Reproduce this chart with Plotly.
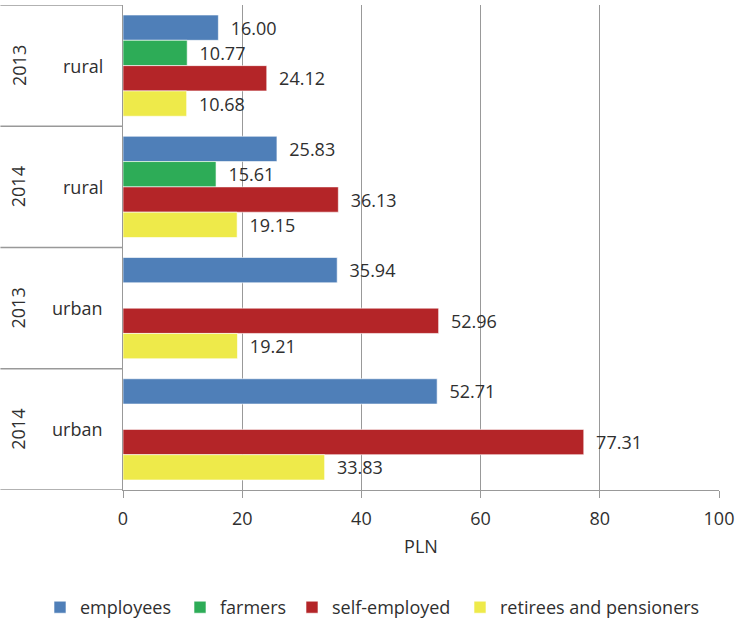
import plotly.graph_objects as go

categories = ["2013 rural", "2014 rural", "2013 urban", "2014 urban"]
years = ["2013", "2014", "2013", "2014"]
areas = ["rural", "rural", "urban", "urban"]

employees = [16.00, 25.83, 35.94, 52.71]
farmers = [10.77, 15.61, None, None]
self_employed = [24.12, 36.13, 52.96, 77.31]
retirees = [10.68, 19.15, 19.21, 33.83]

series = [
    ("employees", employees, "#4F7FB8"),
    ("farmers", farmers, "#2DAC57"),
    ("self-employed", self_employed, "#B42528"),
    ("retirees and pensioners", retirees, "#EEEA4A"),
]

FONT = "Open Sans"
FS = 18
TXT = "#2f2f2f"
GRID = "#999999"

W, H = 739, 618
ml, mr, mt, mb = 123, 18, 5, 128
pw = W - ml - mr
ph = H - mt - mb

legend_ids = ["legend", "legend2", "legend3", "legend4"]
legend_left = [40, 180, 292, 460]

fig = go.Figure()
for (name, vals, col), lid in zip(series, legend_ids):
    fig.add_trace(go.Bar(
        y=categories, x=vals, name=name, orientation="h",
        marker=dict(color=col, line=dict(color="white", width=0.6)),
        texttemplate="\u00a0\u00a0%{x:.2f}", textposition="outside",
        textfont=dict(family=FONT, size=FS, color=TXT),
        cliponaxis=False, legend=lid,
    ))

annotations = []
for i, cat in enumerate(categories):
    annotations.append(dict(x=(18 - ml) / pw, y=cat, xref="paper", yref="y",
                            text=years[i], textangle=-90, showarrow=False,
                            xanchor="center", yanchor="middle",
                            font=dict(family=FONT, size=FS, color=TXT)))
    annotations.append(dict(x=((83 if areas[i] == "rural" else 77) - ml) / pw, y=cat,
                            xref="paper", yref="y",
                            text=areas[i], showarrow=False,
                            xanchor="center", yanchor="middle",
                            font=dict(family=FONT, size=FS, color=TXT)))

shapes = []
for k in range(len(categories) + 1):
    shapes.append(dict(type="line", xref="paper", yref="y",
                       x0=-ml / pw, x1=0, y0=k - 0.5, y1=k - 0.5,
                       line=dict(color=GRID, width=1.3)))

legend_cfg = {}
for lid, lx in zip(legend_ids, legend_left):
    legend_cfg[lid] = dict(orientation="h", xref="container", yref="container",
                           x=lx / W, xanchor="left",
                           y=1 - 607.5 / H, yanchor="middle",
                           font=dict(family=FONT, size=FS, color=TXT),
                           itemwidth=30, bgcolor="rgba(0,0,0,0)")

fig.update_layout(
    width=W, height=H,
    margin=dict(l=ml, r=mr, t=mt, b=mb),
    paper_bgcolor="white", plot_bgcolor="white",
    barmode="group", bargap=0.165, bargroupgap=0,
    font=dict(family=FONT, size=FS, color=TXT),
    showlegend=True,
    xaxis=dict(range=[0, 100], dtick=20, showgrid=True, gridcolor=GRID, gridwidth=1.3,
               showline=True, linecolor=GRID, linewidth=1.3,
               ticks="outside", ticklen=7, tickcolor=GRID, tickwidth=1.3,
               ticklabelstandoff=5,
               tickfont=dict(family=FONT, size=FS, color=TXT),
               title=dict(text="PLN", standoff=11, font=dict(family=FONT, size=FS, color=TXT)),
               zeroline=False, fixedrange=True),
    yaxis=dict(type="category", categoryorder="array", categoryarray=categories,
               range=[3.5, -0.5], showticklabels=False, showgrid=False,
               showline=True, linecolor=GRID, linewidth=1.3, ticks="", zeroline=False),
    annotations=annotations, shapes=shapes,
    **legend_cfg,
)

fig.write_html("out.html")
